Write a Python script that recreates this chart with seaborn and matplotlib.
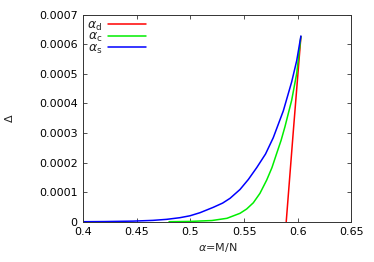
import matplotlib
matplotlib.use("Agg")
import matplotlib.pyplot as plt
import seaborn as sns
import pandas as pd
from matplotlib.lines import Line2D

# alpha_d curve
alpha_d_x = [0.5893, 0.5960, 0.6030]
alpha_d_y = [0.0, 0.00031, 0.000626]

# alpha_c curve
alpha_c_x = [0.480, 0.500, 0.520, 0.534, 0.5462, 0.5524, 0.5586, 0.5648, 0.5711, 0.5760,
             0.5804, 0.5845, 0.5881, 0.5944, 0.5991, 0.6030]
alpha_c_y = [0.0, 0.000001, 0.000004, 0.0000115, 0.0000284, 0.000043, 0.000064, 0.000096,
             0.000141, 0.000183, 0.000231, 0.000275, 0.000321, 0.000411, 0.000502, 0.000626]

# alpha_s curve
alpha_s_x = [0.400, 0.420, 0.4467, 0.465, 0.4778, 0.490, 0.4995, 0.5089, 0.5213, 0.5300, 0.5369,
             0.5462, 0.554, 0.5618, 0.5700, 0.5772, 0.5866, 0.5944, 0.5991, 0.6030]
alpha_s_y = [0.0, 0.0000005, 0.000002, 0.0000045, 0.000008, 0.0000135, 0.000020, 0.0000305,
             0.0000487, 0.000063, 0.0000791, 0.000109, 0.000143, 0.000183, 0.000229, 0.000284,
             0.000375, 0.000473, 0.000545, 0.000628]

series_labels = [r"$\alpha_\mathrm{d}$", r"$\alpha_\mathrm{c}$", r"$\alpha_\mathrm{s}$"]
series_colors = ["#ff0000", "#00ee00", "#0000ff"]

x_ticks = [0.4, 0.45, 0.5, 0.55, 0.6, 0.65]
x_tick_labels = ["0.4", "0.45", "0.5", "0.55", "0.6", "0.65"]
y_ticks = [0, 0.0001, 0.0002, 0.0003, 0.0004, 0.0005, 0.0006, 0.0007]
y_tick_labels = ["0", "0.0001", "0.0002", "0.0003", "0.0004", "0.0005", "0.0006", "0.0007"]

rows = []
for lab, xs, ys in zip(series_labels, [alpha_d_x, alpha_c_x, alpha_s_x], [alpha_d_y, alpha_c_y, alpha_s_y]):
    for x, y in zip(xs, ys):
        rows.append({"alpha": x, "Delta": y, "series": lab})
df = pd.DataFrame(rows)

sns.set_style("ticks")
plt.rcParams["font.family"] = ["DejaVu Sans"]
plt.rcParams["mathtext.fontset"] = "dejavusans"
plt.rcParams["font.size"] = 8

fig = plt.figure(figsize=(3.74, 2.62), dpi=100)
ax = fig.add_axes([0.2227, 0.1538, 0.9393 - 0.2227, 0.9439 - 0.1538])

sns.lineplot(data=df, x="alpha", y="Delta", hue="series", hue_order=series_labels,
             palette=series_colors, sort=False, estimator=None,
             linewidth=1.1, ax=ax, legend=False)

ax.set_xlim(0.4, 0.65)
ax.set_ylim(0, 0.0007)
ax.set_xticks(x_ticks)
ax.set_xticklabels(x_tick_labels)
ax.set_yticks(y_ticks)
ax.set_yticklabels(y_tick_labels)
ax.tick_params(direction="in", length=3, width=0.6, top=True, right=True, labelsize=8, pad=4,
               colors="#333333", labelcolor="black")
for s in ax.spines.values():
    s.set_visible(True)
    s.set_linewidth(0.7)
    s.set_color("#333333")

ax.set_xlabel(r"$\alpha$=M/N", fontsize=8, labelpad=3)
ax.set_ylabel(r"$\Delta$", fontsize=8, labelpad=17)

handles = [Line2D([], [], color=c, lw=1.1) for c in series_colors]
ax.legend(handles, series_labels, loc="upper left", frameon=False, markerfirst=False,
          handlelength=3.0, handletextpad=0.5, labelspacing=-0.2, borderaxespad=0.0,
          fontsize=9, borderpad=0.3)

fig.savefig("out.png", dpi=100)
